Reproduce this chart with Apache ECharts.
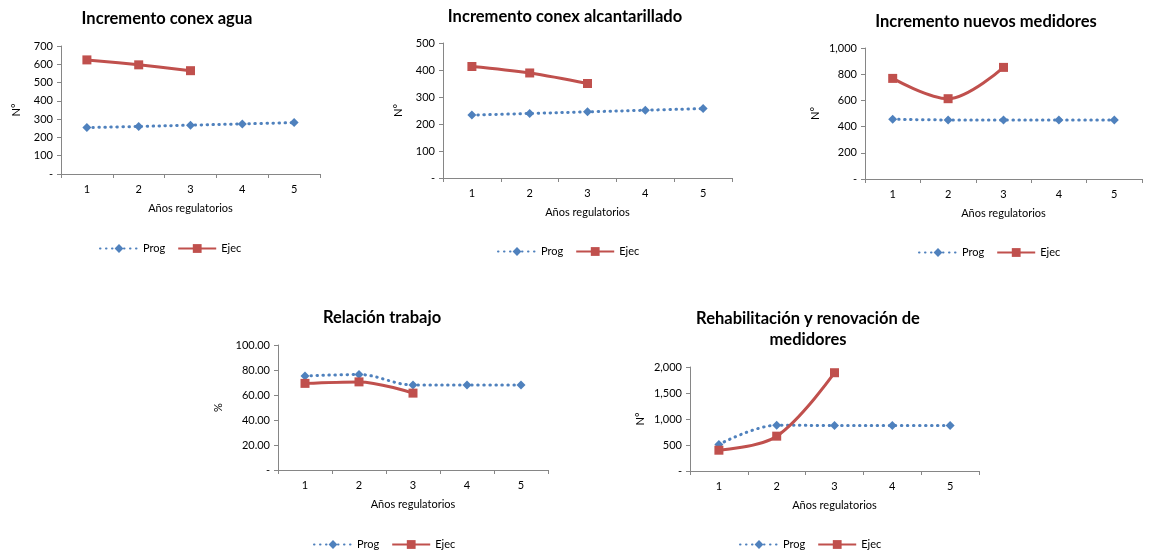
<!DOCTYPE html>
<html>
<head>
<meta charset="utf-8">
<script src="https://cdn.jsdelivr.net/npm/echarts@6/dist/echarts.min.js"></script>
<style>html,body{margin:0;padding:0;background:#fff;}#c{width:1153px;height:551px;}</style>
</head>
<body>
<div id="c"></div>
<script>
// Data
const years = ['1', '2', '3', '4', '5'];
const titles = ['Incremento conex agua', 'Incremento conex alcantarillado', 'Incremento nuevos medidores', 'Relación trabajo', 'Rehabilitación y renovación de\nmedidores'];
const yNames = ['N°', 'N°', 'N°', '%', 'N°'];
const xName = 'Años regulatorios';
const progAgua = [254, 260, 267, 274, 281];
const ejecAgua = [624, 597, 565];
const progAlc = [233, 239, 245, 251, 257];
const ejecAlc = [413, 389, 350];
const progMed = [456, 451, 451, 451, 451];
const ejecMed = [768, 613, 852];
const progRel = [75.2, 76.4, 68.0, 68.0, 68.0];
const ejecRel = [69.3, 70.5, 61.5];
const progReh = [510, 880, 875, 875, 875];
const ejecReh = [400, 670, 1890];
const yMax = [700, 500, 1000, 100, 2000];
const yInterval = [100, 100, 200, 20, 500];

const progs = [progAgua, progAlc, progMed, progRel, progReh];
const ejecs = [ejecAgua, ejecAlc, ejecMed, ejecRel, ejecReh];

const FONT = 'Lato, "Open Sans", sans-serif';
const grids = [
  {left: 61, top: 46, width: 259, height: 128},
  {left: 443, top: 43, width: 289, height: 135},
  {left: 865, top: 48, width: 277, height: 131},
  {left: 278, top: 345, width: 270, height: 125},
  {left: 690, top: 367, width: 289, height: 104}
];
const titlePos = [
  {x: 162, y: 3}, {x: 560, y: 1}, {x: 981, y: 6}, {x: 377, y: 302}, {x: 803, y: 303}
];
const legendPos = [
  {x: 94, y: 238}, {x: 492, y: 241}, {x: 913, y: 242}, {x: 308, y: 534}, {x: 734, y: 534}
];
const fmts = [
  v => v === 0 ? '-' : String(v),
  v => v === 0 ? '-' : String(v),
  v => v === 0 ? '-' : v.toLocaleString('en-US'),
  v => v === 0 ? '-' : v.toFixed(2),
  v => v === 0 ? '-' : v.toLocaleString('en-US')
];
const BLUE = '#4F81BD', RED = '#C0504D', AX = '#868686';

const option = {
  animation: false,
  backgroundColor: '#fff',
  textStyle: {fontFamily: FONT},
  title: titles.map((t, i) => ({
    text: t, left: titlePos[i].x, top: titlePos[i].y, textAlign: 'center',
    textStyle: {fontFamily: FONT, fontSize: 16.5, fontWeight: 'bold', color: '#000', lineHeight: 21}
  })),
  legend: legendPos.map(p => ({
    left: p.x, top: p.y, data: ['Prog', 'Ejec'], itemWidth: 38, itemHeight: 11, itemGap: 12,
    textStyle: {fontFamily: FONT, fontSize: 11, color: '#000'}
  })),
  grid: grids,
  xAxis: grids.map((g, i) => ({
    type: 'category', gridIndex: i, data: years, boundaryGap: true,
    name: xName, nameLocation: 'middle', nameGap: 29,
    nameTextStyle: {fontFamily: FONT, fontSize: 11, color: '#000'},
    axisLine: {lineStyle: {color: AX, width: 1}},
    axisTick: {show: true, length: 4, lineStyle: {color: AX}},
    axisLabel: {fontFamily: FONT, fontSize: 11, color: '#000', margin: 10},
    splitLine: {show: false}
  })),
  yAxis: grids.map((g, i) => ({
    type: 'value', gridIndex: i, min: 0, max: yMax[i], interval: yInterval[i],
    name: yNames[i], nameLocation: 'middle', nameGap: i === 3 ? 54 : (i === 2 || i === 4 ? 44 : 39),
    nameRotate: 90,
    nameTextStyle: {fontFamily: FONT, fontSize: 11, color: '#000'},
    axisLine: {show: true, lineStyle: {color: AX, width: 1}},
    axisTick: {show: true, length: 4, lineStyle: {color: AX}},
    axisLabel: {fontFamily: FONT, fontSize: 11, color: '#000', margin: 8, formatter: fmts[i]},
    splitLine: {show: false}
  })),
  series: []
};
for (let i = 0; i < 5; i++) {
  option.series.push({
    name: 'Prog', type: 'line', xAxisIndex: i, yAxisIndex: i, data: progs[i],
    smooth: 0.35, symbol: 'diamond', symbolSize: 9,
    itemStyle: {color: BLUE},
    lineStyle: {color: BLUE, width: 3, type: [0.5, 5.5], cap: 'round'}
  });
  option.series.push({
    name: 'Ejec', type: 'line', xAxisIndex: i, yAxisIndex: i, data: ejecs[i],
    smooth: 0.35, symbol: 'rect', symbolSize: 9,
    itemStyle: {color: RED},
    lineStyle: {color: RED, width: 3}
  });
}
const chart = echarts.init(document.getElementById('c'), null, {renderer: 'canvas'});
chart.setOption(option);
</script>
</body>
</html>
